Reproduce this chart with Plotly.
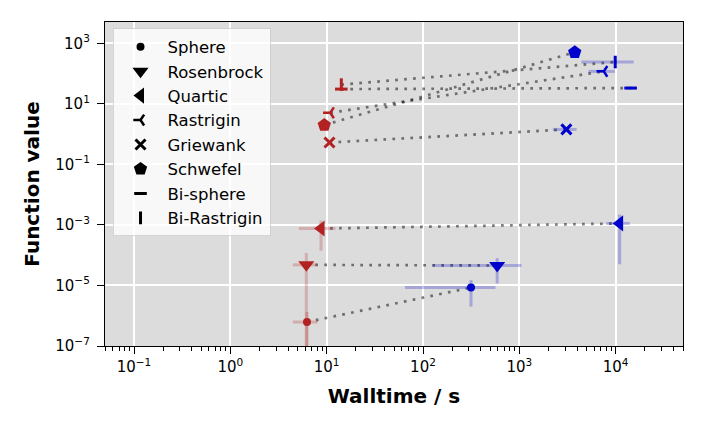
import plotly.graph_objects as go

# Benchmark functions and their marker symbols
functions = ['Sphere', 'Rosenbrock', 'Quartic', 'Rastrigin', 'Griewank',
             'Schwefel', 'Bi-sphere', 'Bi-Rastrigin']
symbols = ['circle', 'triangle-down', 'triangle-left', 'y-left', 'x-thin',
           'pentagon', 'line-ew', 'line-ns']

# Run A (red): walltime mean/std and function value mean/std
time_a = [6.25, 6.15, 8.75, 10.9, 10.7, 9.45, 14.2, 14.2]
time_a_std = [1.8, 1.7, 3.6, 0.3, 0.3, 0.3, 0.3, 0.3]
value_a = [6.2e-7, 4.8e-5, 7.6e-4, 5.07, 0.53, 1.99, 30.8, 43.4]
value_a_std = [7.1e-7, 7.1e-5, 6.2e-4, 0.3, 0.03, 0.1, 1.0, 1.5]

# Run B (blue)
time_b = [315, 589, 11000, 7520, 3080, 3760, 14300, 9900]
time_b_std = [250, 463, 3000, 2300, 850, 300, 1000, 5500]
value_b = [8.5e-6, 4.56e-5, 1.12e-3, 118.6, 1.43, 504, 33.3, 241]
value_b_std = [6.5e-6, 3.4e-5, 1.07e-3, 5.0, 0.05, 20, 1.0, 30]

# Tick labels
x_ticks = [0.1, 1, 10, 100, 1000, 10000]
x_ticktext = ['10<sup>\u22121</sup>', '10<sup>0</sup>', '10<sup>1</sup>',
              '10<sup>2</sup>', '10<sup>3</sup>', '10<sup>4</sup>']
y_ticks = [1e-7, 1e-5, 1e-3, 1e-1, 1e1, 1e3]
y_ticktext = ['10<sup>\u22127</sup>', '10<sup>\u22125</sup>', '10<sup>\u22123</sup>',
              '10<sup>\u22121</sup>', '10<sup>1</sup>', '10<sup>3</sup>']

sizes = [8, 14, 14, 9, 10, 14, 9, 9]
line_widths = [0, 0, 0, 2.5, 3, 0, 3, 3]

red = '#b22222'
blue = '#0000cd'
font = 'DejaVu Sans'

minor_x = [k * 10.0 ** e for e in range(-2, 5) for k in range(2, 10)
           if 0.05 <= k * 10.0 ** e <= 50000]

fig = go.Figure()

# dotted connectors between the two runs
for i in range(len(functions)):
    fig.add_trace(go.Scatter(
        x=[time_a[i], time_b[i]], y=[value_a[i], value_b[i]],
        mode='lines', line=dict(color='rgba(0,0,0,0.5)', width=2.7, dash='2.7px,6.3px'),
        showlegend=False, hoverinfo='skip'))


def run_trace(x, xs, y, ys, color, err_color):
    return go.Scatter(
        x=x, y=y, mode='markers', showlegend=False,
        marker=dict(symbol=symbols, size=sizes, color=color, opacity=1,
                    line=dict(color=color, width=line_widths)),
        error_x=dict(type='data', array=xs, color=err_color, thickness=3, width=0),
        error_y=dict(type='data', array=ys, color=err_color, thickness=3, width=0),
        text=functions)


fig.add_trace(run_trace(time_a, time_a_std, value_a, value_a_std, red, 'rgba(178,34,34,0.25)'))
fig.add_trace(run_trace(time_b, time_b_std, value_b, value_b_std, blue, 'rgba(0,0,205,0.25)'))

# legend entries in black
for name, sym, sz, lw in zip(functions, symbols, sizes, line_widths):
    fig.add_trace(go.Scatter(
        x=[None], y=[None], mode='markers', name=name,
        marker=dict(symbol=sym, size=sz, color='black',
                    line=dict(color='black', width=lw))))

fig.update_layout(
    width=705, height=436,
    margin=dict(l=105, r=22, t=22, b=90),
    paper_bgcolor='white',
    plot_bgcolor='#dcdcdc',
    font=dict(family=font, size=15, color='black'),
    legend=dict(x=0.013, y=0.98, xanchor='left', yanchor='top',
                bgcolor='rgba(255,255,255,0.8)', bordercolor='rgba(204,204,204,0.8)',
                borderwidth=1, font=dict(size=16.5, family=font), itemwidth=44),
)

fig.update_xaxes(
    type='log', range=[-1.301, 4.699],
    tickmode='array', tickvals=x_ticks, ticktext=x_ticktext,
    ticks='outside', ticklen=7, tickwidth=1.3, tickcolor='black',
    showline=True, linecolor='black', linewidth=1.3, mirror=True,
    showgrid=True, gridcolor='white', gridwidth=1.5, zeroline=False,
    minor=dict(tickvals=minor_x, ticks='outside', ticklen=4, tickwidth=1,
               tickcolor='black', showgrid=False),
    title=dict(text='<b>Walltime / s</b>', font=dict(size=20, family=font), standoff=13),
)
fig.update_yaxes(
    type='log', range=[-7, 3.705],
    tickmode='array', tickvals=y_ticks, ticktext=y_ticktext,
    ticks='outside', ticklen=7, tickwidth=1.3, tickcolor='black',
    showline=True, linecolor='black', linewidth=1.3, mirror=True,
    showgrid=True, gridcolor='white', gridwidth=1.5, zeroline=False,
    ticklabelstandoff=4,
    title=dict(text='<b>Function value</b>', font=dict(size=20, family=font), standoff=10),
)

# the page body has a default 8px margin; drop it so the figure sits at the window corner
fig.write_html('out.html', config={'displayModeBar': False},
               post_script="document.body.style.margin='0px';")
